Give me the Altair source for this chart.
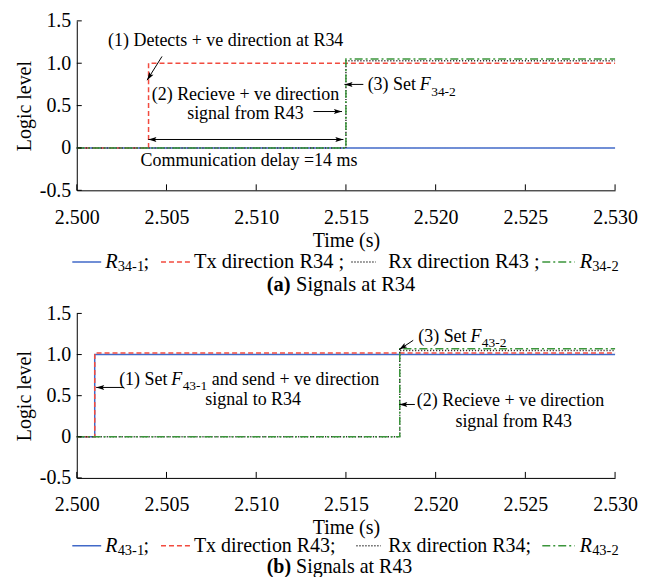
import altair as alt
import pandas as pd

FONT = "Liberation Serif"
BLUE = "#4169c8"
RED = "#f24b3f"
DOT = "#333333"
GREEN = "#3b953b"

# ---------------- data ----------------
x_ticks = [2.500, 2.505, 2.510, 2.515, 2.520, 2.525, 2.530]
y_ticks = [-0.5, 0.0, 0.5, 1.0, 1.5]

# (a) Signals at R34 : change points of step signals
t_a = [2.500, 2.504, 2.515, 2.530]
a_r34_1 = [0.0, 0.0, 0.0, 0.0]
a_tx_r34 = [0.0, 1.0, 1.0, 1.0]
a_rx_r43 = [0.0, 0.0, 1.03, 1.03]
a_r34_2 = [0.0, 0.0, 1.05, 1.05]

# (b) Signals at R43
t_b = [2.500, 2.501, 2.518, 2.530]
b_r43_1 = [0.0, 1.0, 1.0, 1.0]
b_tx_r43 = [0.0, 1.02, 1.02, 1.02]
b_rx_r34 = [0.0, 0.0, 1.05, 1.05]
b_r43_2 = [0.0, 0.0, 1.07, 1.07]

# annotations (data coordinates)
a_center_txt = ["(1) Detects + ve direction at R34", "(2) Recieve + ve direction",
                "signal from R43", "Communication delay =14 ms"]
a_center_x = [2.5083, 2.5094, 2.5094, 2.5096]
a_center_y = [1.26, 0.63, 0.40, -0.15]

b_center_txt = ["signal to R34", "(2) Recieve + ve direction", "signal from R43"]
b_center_x = [2.50983, 2.52417, 2.52435]
b_center_y = [0.45, 0.437, 0.182]

W = 540
HA = 170
HB = 165

xscale = alt.Scale(domain=[2.5, 2.53], nice=False, zero=False)
yscale = alt.Scale(domain=[-0.5, 1.5], nice=False, zero=False)


def xaxis():
    return alt.Axis(values=x_ticks, format=".3f", title="Time (s)", ticks=False, grid=False,
                    domainColor="black", domainWidth=1, labelFont=FONT, labelFontSize=20,
                    labelColor="black", labelPadding=27, labelBaseline="middle",
                    labelFlush=False, labelOverlap=False, titleFont=FONT, titleFontSize=20,
                    titleFontWeight="normal", titleColor="black", titleY=50,
                    titleBaseline="middle")


def yaxis(h):
    return alt.Axis(values=y_ticks, title="Logic level", ticks=False, grid=False,
                    labelExpr="datum.value == 0 ? '0' : replace(format(datum.value, '.1f'), '\u2212', '-')",
                    domainColor="black", domainWidth=1, labelFont=FONT, labelFontSize=20,
                    labelColor="black", labelPadding=6, labelFlush=False, labelOverlap=False,
                    titleFont=FONT, titleFontSize=20, titleFontWeight="normal",
                    titleColor="black", titleX=-52, titleY=h / 2, titleBaseline="middle")


def X(f, h):
    return alt.X(f, type="quantitative", scale=xscale, axis=xaxis())


def Y(f, h):
    return alt.Y(f, type="quantitative", scale=yscale, axis=yaxis(h))


def step(t, v, color, dash, h):
    df = pd.DataFrame({"t": t, "v": v})
    return alt.Chart(df).mark_line(interpolate="step-after", color=color, strokeDash=dash,
                                   strokeWidth=1.5).encode(x=X("t", h), y=Y("v", h))


def ticks(h):
    tx = alt.Chart(pd.DataFrame({"t": x_ticks})).mark_rule(color="black", strokeWidth=1).encode(
        x=X("t", h), y=alt.value(h), y2=alt.value(h - 6))
    ty = alt.Chart(pd.DataFrame({"v": y_ticks})).mark_rule(color="black", strokeWidth=1).encode(
        y=Y("v", h), x=alt.value(0), x2=alt.value(5))
    return [tx, ty]


def texts(xs, ys, labels, h, align="center", size=18, style="normal", weight="normal"):
    df = pd.DataFrame({"t": xs, "v": ys, "label": labels})
    return alt.Chart(df).mark_text(font=FONT, fontSize=size, align=align, baseline="middle",
                                   fontStyle=style, fontWeight=weight, color="black").encode(
        x=X("t", h), y=Y("v", h), text="label:N")


HEAD = "M0,0L0.55,1.8L0,1.45L-0.55,1.8Z"


def arrows(x1, y1, x2, y2, hx, hy, ang, h):
    shaft = alt.Chart(pd.DataFrame({"t": x1, "v": y1, "t2": x2, "v2": y2})).mark_rule(
        color="black", strokeWidth=1).encode(x=X("t", h), y=Y("v", h), x2="t2", y2="v2")
    head = alt.Chart(pd.DataFrame({"t": hx, "v": hy, "ang": ang})).mark_point(
        shape=HEAD, filled=True, color="black", opacity=1, size=81, strokeWidth=0).encode(
        x=X("t", h), y=Y("v", h), angle=alt.Angle("ang:Q", scale=None))
    return [shaft, head]


def ptext(x, y, s, size=20.5, style="normal", weight="normal", align="left"):
    return alt.Chart(pd.DataFrame({"k": [0]})).mark_text(
        font=FONT, fontSize=size, fontStyle=style, fontWeight=weight, align=align,
        baseline="middle", color="black").encode(x=alt.value(x), y=alt.value(y),
                                                  text=alt.value(s))


def pline(x1, x2, y, color, dash):
    return alt.Chart(pd.DataFrame({"k": [0]})).mark_rule(
        color=color, strokeDash=dash, strokeWidth=1.5).encode(
        x=alt.value(x1), x2=alt.value(x2), y=alt.value(y))


def legend(h, sub1, txt2, txt3, sub4, gap, fs):
    ly = h + 72
    sy = ly + 5
    return [
        pline(-4.5, 24.5, ly, BLUE, [1, 0]),
        ptext(28.5, ly, "R", style="italic", size=fs),
        ptext(41, sy, sub1, size=14.5),
        ptext(67, ly, ";", size=fs),
        pline(84.5, 114.5, ly, RED, [5, 3]),
        ptext(117.5, ly, txt2, size=fs),
        pline(275.5 + gap, 300 + gap, ly, DOT, [1.2, 1.8]),
        ptext(312.5, ly, txt3, size=fs),
        pline(467, 499.5, ly, GREEN, [8, 3, 2, 3]),
        ptext(504.5, ly, "R", style="italic", size=fs),
        ptext(517, sy, sub4, size=14.5),
    ]


def caption(h, letter, rest, fs):
    cy = h + 95
    return [ptext(190.5, cy, letter, size=fs, weight="bold"),
            ptext(220, cy, rest, size=fs)]


# ---------------- panel (a) ----------------
layers_a = [
    step(t_a, a_r34_1, BLUE, [1, 0], HA),
    step(t_a, a_tx_r34, RED, [5, 3], HA),
    step(t_a, a_rx_r43, DOT, [1.2, 1.8], HA),
    step(t_a, a_r34_2, GREEN, [8, 3, 2, 3], HA),
] + ticks(HA) + [
    texts(a_center_x, a_center_y, a_center_txt, HA),
    texts([2.51621], [0.74], ["(3) Set"], HA, align="left"),
    texts([2.51912], [0.74], ["F"], HA, align="left", style="italic"),
    texts([2.51975], [0.66], ["34-2"], HA, align="left", size=13.5),
] + arrows([2.50475, 2.51319, 2.50399, 2.51597], [1.08, 0.43, 0.10, 0.75],
           [2.50392, 2.51478, 2.51486, 2.51492], [0.80, 0.43, 0.10, 0.75],
           [2.50392, 2.51478, 2.51486, 2.50399, 2.51492],
           [0.80, 0.43, 0.10, 0.10, 0.75],
           [212, 90, 90, 270, 270], HA) \
  + legend(HA, "34-1", "Tx direction R34 ;", "Rx direction R43 ;", "34-2", 0, 20.5) \
  + caption(HA, "(a)", "Signals at R34", 20.5)

panel_a = alt.layer(*layers_a).properties(width=W, height=HA)

# ---------------- panel (b) ----------------
layers_b = [
    step(t_b, b_r43_1, BLUE, [1, 0], HB),
    step(t_b, b_tx_r43, RED, [5, 3], HB),
    step(t_b, b_rx_r34, DOT, [1.2, 1.8], HB),
    step(t_b, b_r43_2, GREEN, [8, 3, 2, 3], HB),
] + ticks(HB) + [
    texts(b_center_x, b_center_y, b_center_txt, HB),
    texts([2.50236], [0.688], ["(1) Set"], HB, align="left"),
    texts([2.50527], [0.688], ["F"], HB, align="left", style="italic"),
    texts([2.50590], [0.615], ["43-1"], HB, align="left", size=13.5),
    texts([2.50752], [0.688], ["and send + ve direction"], HB, align="left"),
    texts([2.51903], [1.213], ["(3) Set"], HB, align="left"),
    texts([2.52194], [1.213], ["F"], HB, align="left", style="italic"),
    texts([2.52257], [1.135], ["43-2"], HB, align="left", size=13.5),
] + arrows([2.50264, 2.51875, 2.51884], [0.60, 1.173, 0.393],
           [2.50108, 2.51797, 2.51797], [0.60, 1.06, 0.393],
           [2.50108, 2.51797, 2.51797], [0.60, 1.06, 0.393],
           [270, 236, 270], HB) \
  + legend(HB - 4, "43-1", "Tx direction R43;", "Rx direction R34;", "43-2", 5, 20) \
  + caption(HB - 6, "(b)", "Signals at R43", 20)

panel_b = alt.layer(*layers_b).properties(width=W, height=HB)

chart = alt.vconcat(panel_a, panel_b, spacing=123.5, bounds="flush").properties(
    padding={"left": 7, "top": 2, "right": 0, "bottom": 0}
).configure_view(stroke=None)

chart.save("out.html", embed_options={"renderer": "svg", "actions": False})
